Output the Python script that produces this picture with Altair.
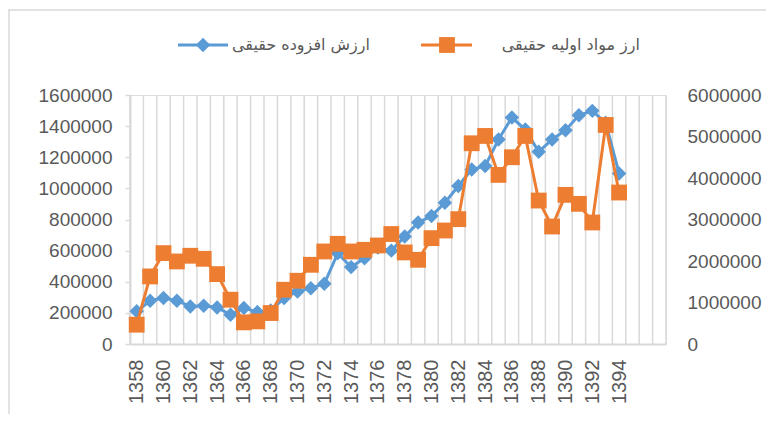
import altair as alt
import pandas as pd

years = list(range(1358, 1395))
value_added = [210000, 278000, 295000, 278000, 241000, 246000, 235000, 188000, 231000, 205000,
               215000, 295000, 338000, 359000, 387000, 583000, 494000, 551000, 620000, 600000,
               690000, 780000, 823000, 908000, 1015000, 1122000, 1143000, 1314000, 1455000, 1378000,
               1235000, 1314000, 1374000, 1470000, 1498000, 1421000, 1096000]
raw_materials = [465000, 1628000, 2190000, 1989000, 2126000, 2053000, 1684000, 1067000, 521000, 545000,
                 746000, 1307000, 1524000, 1909000, 2230000, 2414000, 2230000, 2270000, 2374000, 2650000,
                 2206000, 2029000, 2551000, 2735000, 3008000, 4837000, 5013000, 4075000, 4500000, 5013000,
                 3457000, 2831000, 3594000, 3377000, 2928000, 5278000, 3650000]
extra_years = [1395, 1396, 1397]
x_labels = list(range(1358, 1395, 2))
left_ticks = list(range(0, 1600001, 200000))
right_ticks = list(range(0, 6000001, 1000000))
name_va = "ارزش افزوده حقیقی"
name_rm = "ارز مواد اولیه حقیقی"

BLUE = "#5b9bd5"
ORANGE = "#ed7d31"
GRID = "#d9d9d9"
TXT = "#595959"

df = pd.DataFrame({"year": years, "va": value_added, "rm": raw_materials})
all_years = years + extra_years
bounds = pd.DataFrame({"b": [y - 0.5 for y in all_years] + [all_years[-1] + 0.5]})

xscale = alt.Scale(domain=[all_years[0] - 0.5, all_years[-1] + 0.5], nice=False, zero=False)
xaxis = alt.Axis(values=x_labels, format="d", labelAngle=-90, labelFontSize=20, labelColor=TXT,
                 labelFont="Liberation Sans", grid=False, ticks=False, domain=True,
                 domainColor=GRID, domainWidth=2, labelPadding=15, title=None)

rules = alt.Chart(bounds).mark_rule(color=GRID, strokeWidth=1.5).encode(
    x=alt.X("b:Q", scale=xscale, axis=xaxis))

blue = alt.Chart(df).mark_line(
    color=BLUE, strokeWidth=3,
    point=alt.OverlayMarkDef(shape="diamond", size=210, filled=True, color=BLUE, opacity=1)
).encode(
    x=alt.X("year:Q", scale=xscale, axis=xaxis),
    y=alt.Y("va:Q", scale=alt.Scale(domain=[0, 1600000], nice=False),
            axis=alt.Axis(values=left_ticks, format="d", orient="left", grid=False, ticks=True,
                          tickSize=5, tickColor=GRID, tickWidth=1.5, domainColor=GRID, domainWidth=2,
                          labelFontSize=19, labelColor=TXT, labelFont="Liberation Sans",
                          labelPadding=13, title=None)),
)

orange = alt.Chart(df).mark_line(
    color=ORANGE, strokeWidth=3,
    point=alt.OverlayMarkDef(shape="square", size=250, filled=True, color=ORANGE, opacity=1)
).encode(
    x=alt.X("year:Q", scale=xscale, axis=xaxis),
    y=alt.Y("rm:Q", scale=alt.Scale(domain=[0, 6000000], nice=False),
            axis=alt.Axis(values=right_ticks, format="d", orient="right", grid=False, ticks=False,
                          domain=False, labelFontSize=19, labelColor=TXT, labelFont="Liberation Sans",
                          labelPadding=21, title=None)),
)

one = pd.DataFrame({"a": [0]})
LY = -50
leg_blue_line = alt.Chart(one).mark_rule(color=BLUE, strokeWidth=3).encode(
    x=alt.value(48), x2=alt.value(98), y=alt.value(LY))
leg_blue_pt = alt.Chart(one).mark_point(shape="diamond", size=210, filled=True, color=BLUE, opacity=1).encode(
    x=alt.value(73), y=alt.value(LY))
leg_blue_txt = alt.Chart(one).mark_text(align="right", baseline="middle", font="DejaVu Sans",
                                        fontSize=16, color=TXT).encode(
    x=alt.value(240), y=alt.value(LY), text=alt.value(name_va))
leg_or_line = alt.Chart(one).mark_rule(color=ORANGE, strokeWidth=3).encode(
    x=alt.value(291), x2=alt.value(342), y=alt.value(LY))
leg_or_pt = alt.Chart(one).mark_point(shape="square", size=250, filled=True, color=ORANGE, opacity=1).encode(
    x=alt.value(317), y=alt.value(LY))
leg_or_txt = alt.Chart(one).mark_text(align="right", baseline="middle", font="DejaVu Sans",
                                      fontSize=16, color=TXT).encode(
    x=alt.value(510), y=alt.value(LY), text=alt.value(name_rm))

border_top = alt.Chart(one).mark_rule(color=GRID, strokeWidth=1.5).encode(
    x=alt.value(-122), x2=alt.value(660), y=alt.value(-85))
border_left = alt.Chart(one).mark_rule(color=GRID, strokeWidth=1.5).encode(
    x=alt.value(-121), y=alt.value(-85), y2=alt.value(330))

chart = alt.layer(
    rules, blue, orange,
    leg_blue_line, leg_blue_pt, leg_blue_txt, leg_or_line, leg_or_pt, leg_or_txt,
    border_top, border_left,
).resolve_scale(y="independent").properties(
    width=536, height=249,
    padding={"left": 122, "top": 87, "right": 100, "bottom": 70},
    autosize=alt.AutoSizeParams(type="none"),
).configure_view(stroke=None).configure(background="white")

chart.save("out.html", embed_options={"renderer": "svg", "actions": False})
